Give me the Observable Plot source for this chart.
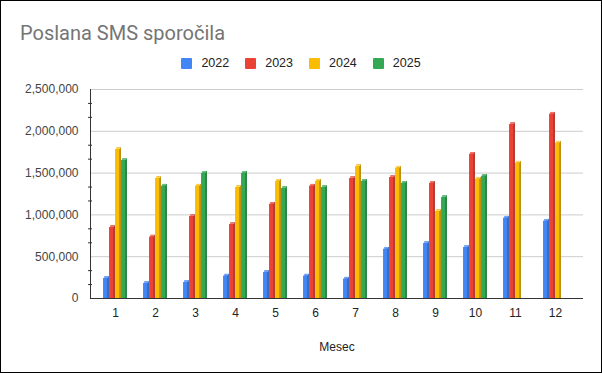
<!DOCTYPE html>
<html>
<head>
<meta charset="utf-8">
<script src="https://cdn.jsdelivr.net/npm/d3@7"></script>
<script src="https://cdn.jsdelivr.net/npm/@observablehq/plot@0.6"></script>
<style>
  html, body { margin: 0; padding: 0; background: #fff; }
  #wrap { position: relative; width: 602px; height: 373px; overflow: hidden; font-family: Arial, "Liberation Sans", sans-serif; }
  #border { position: absolute; left: 0; top: 0; width: 602px; height: 373px; box-sizing: border-box; border: 1px solid #000; pointer-events: none; }
  #title { position: absolute; left: 20px; top: 21px; font-family: Roboto, Arial, sans-serif; font-size: 20px; color: #757575; white-space: nowrap; }
  #legend { position: absolute; left: 0; top: 56px; width: 602px; display: flex; justify-content: center; font-size: 12.5px; color: #222; }
  .item { display: flex; align-items: center; margin: 0 8px; }
  .sw { width: 11px; height: 11px; border-radius: 1px; margin-right: 9px; }
  #chart { position: absolute; left: 0; top: 78px; }
</style>
</head>
<body>
<div id="wrap">
  <div id="title">Poslana SMS sporočila</div>
  <div id="legend"></div>
  <div id="chart"></div>
  <div id="border"></div>
</div>
<script>
const months = [1, 2, 3, 4, 5, 6, 7, 8, 9, 10, 11, 12];
const years = ["2022", "2023", "2024", "2025"];
const v2022 = [240000, 180000, 192000, 268000, 312000, 268000, 232000, 590000, 658000, 610000, 961000, 925000];
const v2023 = [850000, 735000, 980000, 885000, 1128000, 1344000, 1435000, 1447000, 1379000, 1726000, 2081000, 2205000];
const v2024 = [1782000, 1435000, 1344000, 1328000, 1403000, 1403000, 1579000, 1559000, 1040000, 1427000, 1619000, 1858000];
const v2025 = [1650000, 1344000, 1499000, 1499000, 1316000, 1328000, 1403000, 1379000, 1208000, 1463000, null, null];
const yTicks = [0, 500000, 1000000, 1500000, 2000000, 2500000];
const xLabel = "Mesec";

const colors = ["#4285F4", "#EA4335", "#FBBC04", "#34A853"];
const sideColors = ["#2f66c4", "#b3322a", "#b98a00", "#23803c"];
const capColors = ["#7aa7f7", "#f07a70", "#fdd35a", "#6cc487"];
const series = [v2022, v2023, v2024, v2025];

// legend
const legend = document.getElementById("legend");
years.forEach((y, i) => {
  const it = document.createElement("div");
  it.className = "item";
  it.innerHTML = `<div class="sw" style="background:${colors[i]}"></div><span>${y}</span>`;
  legend.appendChild(it);
});

const minorTicks = [];
for (let k = 0; k < yTicks.length - 1; k++) {
  const a = yTicks[k], b = yTicks[k + 1];
  minorTicks.push(a + (b - a) / 3, a + 2 * (b - a) / 3);
}

const front = 4.3, side = 1.7, pitch = 6;
const bandW = (575.8 - 94.6) / 12;
const groupStart = (bandW - 4 * pitch) / 2;

const marks = [
  Plot.ruleY(yTicks.slice(1), {stroke: "#cccccc", strokeWidth: 1}),
];
series.forEach((vals, i) => {
  const data = months.map((m, j) => ({month: m, value: vals[j]})).filter(d => d.value != null);
  const l = groupStart + i * pitch;
  // side / back face
  marks.push(Plot.barY(data, {
    x: "month", y: "value", fill: sideColors[i],
    insetLeft: l + side, insetRight: bandW - (l + front + side),
    dy: -side, insetBottom: -side
  }));
  // top cap
  marks.push(Plot.barY(data, {
    x: "month", y1: "value", y2: "value", fill: capColors[i],
    insetLeft: l + side * 0.6, insetRight: bandW - (l + front + side * 0.6),
    dy: -side * 0.5, insetTop: -side * 0.5, insetBottom: -side * 0.5
  }));
  // front face
  marks.push(Plot.barY(data, {
    x: "month", y: "value", fill: colors[i],
    insetLeft: l, insetRight: bandW - (l + front)
  }));
});
marks.push(
  Plot.ruleY([0], {stroke: "#333333", strokeWidth: 1}),
  Plot.frame({anchor: "left", stroke: "#333333"}),
  Plot.axisY({ticks: yTicks, tickSize: 0, tickPadding: 12, tickFormat: d3.format(","), fontSize: 12, fill: "#444", label: null}),
  Plot.axisY({ticks: minorTicks, tickSize: 4, dx: 2, tickFormat: () => "", stroke: "#333", label: null}),
  Plot.axisX({tickSize: 0, tickPadding: 10, fontSize: 12, fill: "#222", label: null}),
  Plot.text([xLabel], {frameAnchor: "bottom", dy: 52, text: d => d, fontSize: 12, fill: "#222"})
);

const chart = Plot.plot({
  width: 602,
  height: 292,
  marginLeft: 90,
  marginRight: 19,
  marginTop: 11,
  marginBottom: 72,
  style: {fontFamily: "Arial, 'Liberation Sans', sans-serif", background: "transparent", overflow: "visible"},
  x: {type: "band", domain: months, range: [94.6, 575.8], padding: 0},
  y: {domain: [0, 2500000]},
  marks
});
document.getElementById("chart").appendChild(chart);
</script>
</body>
</html>
